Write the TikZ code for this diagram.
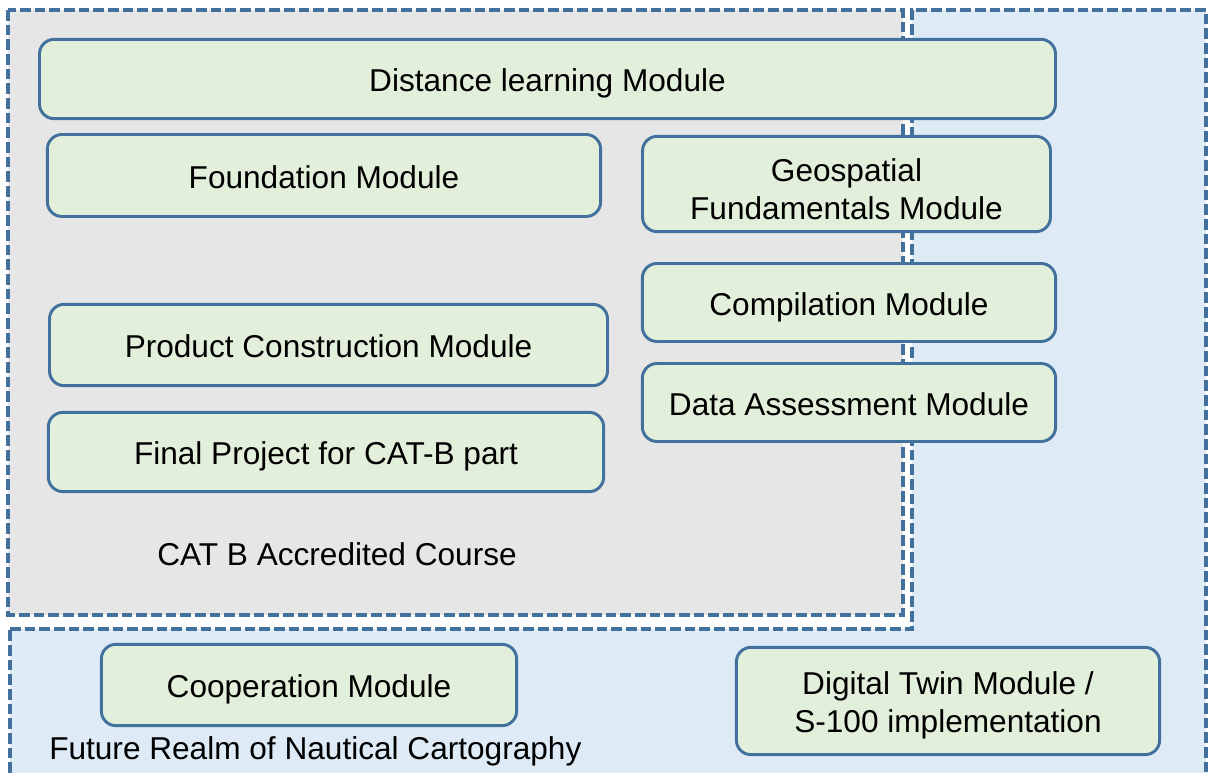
\documentclass[tikz,border=0pt]{standalone}
\usepackage{fontspec}
\setmainfont{Liberation Sans}
\definecolor{frameblue}{RGB}{65,113,156}
\definecolor{boxgreen}{RGB}{226,239,218}
\definecolor{areagrey}{RGB}{230,230,230}
\definecolor{areablue}{RGB}{222,234,246}
\tikzset{
  modbox/.style={draw=frameblue, line width=2.2pt, fill=boxgreen, rounded corners=11pt,
    align=center, inner sep=0.75pt, font=\fontsize{23.7}{28.5}\selectfont,
    execute at begin node={\rule[-5pt]{0pt}{28.9pt}}},
  twoline/.style={execute at begin node={\rule[-5pt]{0pt}{#1}}},
  arealine/.style={draw=frameblue, line width=2.5pt, dash pattern=on 8pt off 3pt},
  areatext/.style={inner sep=0.75pt, font=\fontsize{23.7}{28.5}\selectfont}
}

\begin{document}
\begin{tikzpicture}[x=0.75pt,y=0.75pt,yscale=-1,xscale=1]
\path[use as bounding box, clip] (0,0) rectangle (1213,773);

%Shape: Polygon [future realm]
\draw [arealine, fill=areablue] (10,629) -- (912,629) -- (912,10) -- (1206,10) -- (1206,800) -- (10,800) -- cycle ;
%Shape: Rectangle [cat b]
\draw [arealine, fill=areagrey] (8,10) rectangle (903,615) ;

%Rounded Rect
\node (distance) [modbox, minimum width=762pt, minimum height=59.5pt] at (547.5,79) {Distance learning Module};
%Rounded Rect
\node (foundation) [modbox, minimum width=415pt, minimum height=61.5pt] at (324,175.5) {Foundation Module};
%Rounded Rect
\node (geospatial) [modbox, twoline=63.4pt, minimum width=306pt, minimum height=71.5pt] at (846.5,184) {Geospatial\\Fundamentals Module};
%Rounded Rect
\node (compilation) [modbox, minimum width=310pt, minimum height=58.5pt] at (849,302.5) {Compilation Module};
%Rounded Rect
\node (product) [modbox, minimum width=418.5pt, minimum height=61pt] at (328.5,345) {Product Construction Module};
%Rounded Rect
\node (assessment) [modbox, minimum width=310pt, minimum height=58.5pt] at (849,402.5) {Data Assessment Module};
%Rounded Rect
\node (final) [modbox, minimum width=416.5pt, minimum height=59.5pt] at (326,452) {Final Project for CAT-B part};
%Rounded Rect
\node (cooperation) [modbox, minimum width=311.5pt, minimum height=61pt] at (309,685) {Cooperation Module};
%Rounded Rect
\node (twin) [modbox, twoline=57.4pt, minimum width=317.5pt, minimum height=80.5pt] at (948,701) {Digital Twin Module /\\S-100 implementation};

% Text Node
\node (catlabel) [areatext] at (337,554) {CAT B Accredited Course};
% Text Node
\node (futurelabel) [areatext, anchor=west] at (48,751) {Future Realm of Nautical Cartography};

\end{tikzpicture}
\end{document}
